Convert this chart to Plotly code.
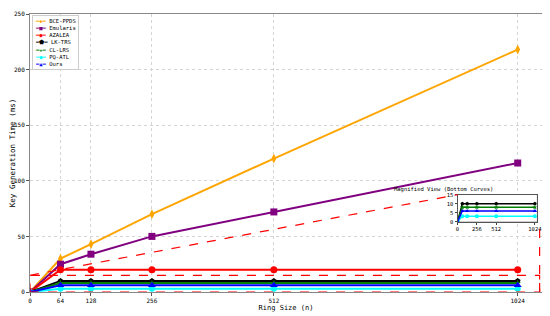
import plotly.graph_objects as go

# ring sizes and key generation times (ms)
ring_sizes = [0, 64, 128, 256, 512, 1024]
bce_ppds = [0, 30, 43, 70, 120, 218]
emularis = [0, 25, 34, 50, 72, 116]
azalea = [0, 20, 20, 20, 20, 20]
lk_trs = [0, 10, 10, 10, 10, 10]
cl_lrs = [0, 8, 8, 8, 8, 8]
pq_atl = [0, 3, 3, 3, 3, 3]
ours = [0, 6, 6, 6, 6, 6]

x_ticks = [0, 64, 128, 256, 512, 1024]
inset_x_ticks = [0, 256, 512, 1024]

# name, values, colour, marker, marker size, legend glyph
series = [
    ("BCE-PPDS", bce_ppds, "orange", "diamond-tall", 7, "◆"),
    ("Emularis", emularis, "purple", "square", 7, "■"),
    ("AZALEA", azalea, "red", "circle", 7, "●"),
    ("LK-TRS", lk_trs, "black", "pentagon", 6, "⬟"),
    ("CL-LRS", cl_lrs, "green", "star", 5, "★"),
    ("PQ-ATL", pq_atl, "cyan", "circle", 6, "●"),
    ("Ours", ours, "blue", "triangle-up", 7, "▲"),
]
bottom_names = ["LK-TRS", "CL-LRS", "PQ-ATL", "Ours"]

FONT = "DejaVu Sans Mono"
X_RANGE = [0, 1075]
Y_RANGE = [0, 250]
INSET_X = [0.835, 0.99]
INSET_Y = [0.253, 0.35]

fig = go.Figure()

for name, vals, color, sym, msize, glyph in series:
    fig.add_trace(go.Scatter(
        x=ring_sizes, y=vals, name=name, mode="lines+markers",
        line=dict(color=color, width=2),
        marker=dict(symbol=sym, size=msize, color=color),
        xaxis="x", yaxis="y", showlegend=False))

# magnified view of the bottom curves
for name, vals, color, sym, msize, glyph in series:
    if name not in bottom_names:
        continue
    fig.add_trace(go.Scatter(
        x=ring_sizes, y=vals, name=name, mode="lines+markers",
        line=dict(color=color, width=1.5),
        marker=dict(symbol=sym, size=4, color=color),
        xaxis="x2", yaxis="y2", showlegend=False))

# zoom rectangle + connector lines
dash = dict(color="red", width=1.2, dash="dash")
fig.add_shape(type="rect", xref="x", yref="y", x0=0, x1=1070, y0=0, y1=15, line=dash)
ins_l = X_RANGE[0] + INSET_X[0] * (X_RANGE[1] - X_RANGE[0])
ins_t = Y_RANGE[0] + INSET_Y[1] * (Y_RANGE[1] - Y_RANGE[0])
ins_b = Y_RANGE[0] + INSET_Y[0] * (Y_RANGE[1] - Y_RANGE[0])
fig.add_shape(type="line", xref="x", yref="y", x0=0, y0=15, x1=ins_l, y1=ins_t, line=dash)
fig.add_shape(type="line", xref="x", yref="y", x0=1070, y0=0, x1=1070, y1=ins_b - 7, line=dash)

# inset background
fig.add_shape(type="rect", xref="paper", yref="paper",
              x0=INSET_X[0], x1=INSET_X[1], y0=INSET_Y[0], y1=INSET_Y[1],
              line=dict(color="#555", width=1), fillcolor="white", layer="below")

fig.add_annotation(text="Magnified View (Bottom Curves)", xref="paper", yref="paper",
                   x=sum(INSET_X) / 2 - 0.004, y=INSET_Y[1], yanchor="bottom", showarrow=False,
                   font=dict(size=5.5, family=FONT, color="black"), yshift=0)

# compact legend
legend_lines = [f"<span style='color:{c}'>━{g}━</span> {n}" for n, v, c, s, m, g in series]
fig.add_annotation(text="<br>".join(legend_lines), xref="paper", yref="paper",
                   x=0.004, y=0.995, xanchor="left", yanchor="top", align="left",
                   showarrow=False, bgcolor="rgba(255,255,255,0.9)",
                   bordercolor="#ccc", borderwidth=1, borderpad=2,
                   font=dict(size=5.5, family=FONT, color="black"))

axis_common = dict(showline=True, linecolor="#888", linewidth=1, mirror=True,
                   showgrid=True, gridcolor="#d4d4d4", griddash="dot", gridwidth=1,
                   ticks="outside", ticklen=3, tickcolor="#555", zeroline=False,
                   automargin=False,
                   tickfont=dict(size=6, family=FONT, color="black"))

# the page adds an 8px body margin, so the figure is sized to fit inside it
fig.update_layout(
    width=542, height=308,
    margin=dict(l=22, r=6, t=3, b=24),
    plot_bgcolor="white", paper_bgcolor="white",
    font=dict(family=FONT, color="black"),
    showlegend=False,
    xaxis=dict(range=X_RANGE, tickvals=x_ticks, domain=[0, 1],
               title=dict(text="Ring Size (n)", font=dict(size=7, family=FONT), standoff=0),
               **axis_common),
    yaxis=dict(range=Y_RANGE, tickvals=[0, 50, 100, 150, 200, 250], domain=[0, 1],
               title=dict(text="Key Generation Time (ms)", font=dict(size=7.5, family=FONT), standoff=0),
               **axis_common),
    xaxis2=dict(range=[0, 1050], tickvals=inset_x_ticks, domain=INSET_X, anchor="y2",
                showline=True, linecolor="#555", mirror=True, showgrid=False, zeroline=False,
                ticks="outside", ticklen=2, tickfont=dict(size=5.5, family=FONT)),
    yaxis2=dict(range=[0, 15], dtick=5, domain=INSET_Y, anchor="x2",
                showline=True, linecolor="#555", mirror=True, showgrid=False, zeroline=False,
                ticks="outside", ticklen=2, tickfont=dict(size=5.5, family=FONT)),
)

fig.write_html("out.html")
